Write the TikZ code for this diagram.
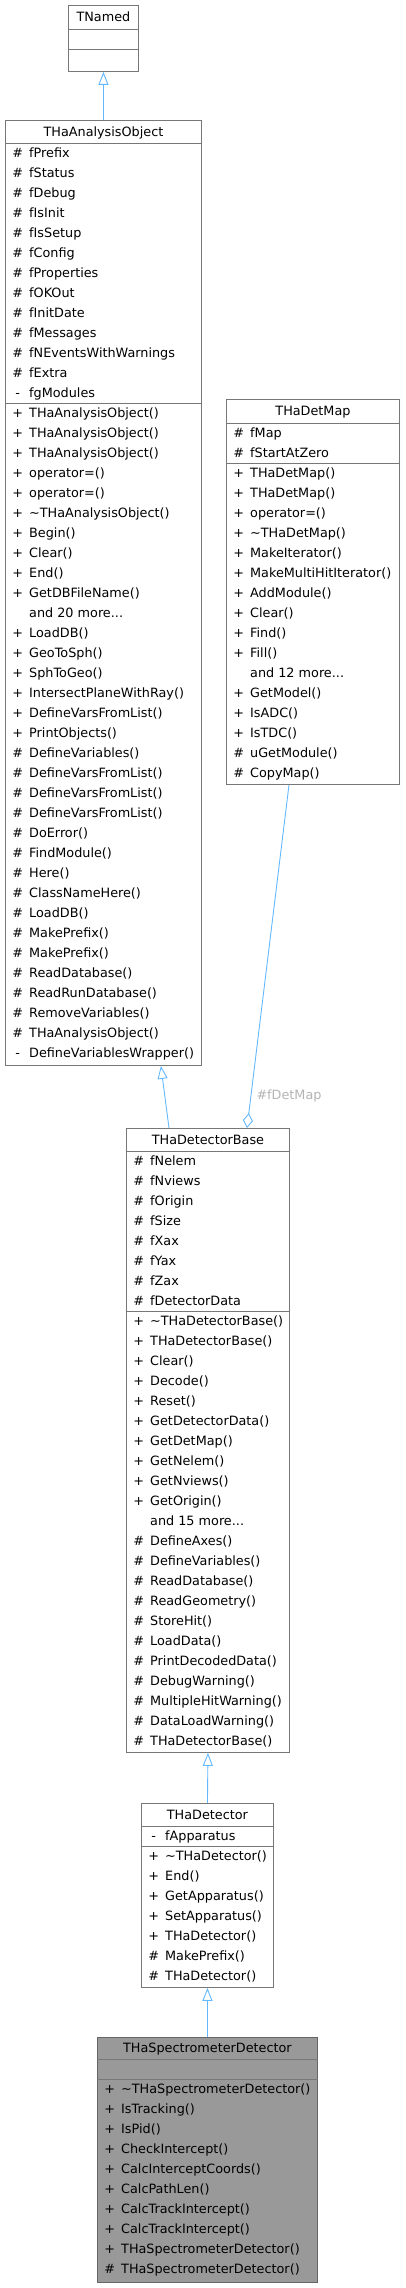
\documentclass[tikz,border=0pt]{standalone}
\usepackage{fontspec}
\setmainfont{DejaVu Sans}
\usetikzlibrary{arrows.meta}
\definecolor{edgeblue}{HTML}{63B8FF}
\definecolor{boxgray}{HTML}{777777}
\definecolor{lblgray}{HTML}{B4B4B4}
\definecolor{curfill}{HTML}{999999}

\begin{document}
\begin{tikzpicture}[x=1pt, y=-1pt, font=\fontsize{12.8}{15}\selectfont,
  umlbox/.style={draw=boxgray, line width=0.9pt, fill=white, inner sep=0pt, anchor=north west},
  divider/.style={draw=boxgray, line width=0.9pt},
  headtext/.style={inner sep=0pt, anchor=base},
  rowtext/.style={inner sep=0pt, anchor=base west},
  inherit/.style={draw=edgeblue, line width=0.9pt, -{Triangle[open, length=13pt, width=10pt, fill=white]}},
  member/.style={draw=edgeblue, line width=0.9pt, {Diamond[open, length=15pt, width=10pt, fill=white]}-},
  lbl/.style={text=lblgray, inner sep=0pt}]
  \useasboundingbox (0,0) rectangle (405,2288);

  % class boxes
  \node[umlbox, minimum width=70pt, minimum height=66pt] (named) at (68,5) {};
  \node[umlbox, minimum width=196pt, minimum height=945pt] (anaobj) at (5,120) {};
  \node[umlbox, minimum width=173pt, minimum height=385pt] (detmap) at (226,399) {};
  \node[umlbox, minimum width=163pt, minimum height=624pt] (detbase) at (126,1128) {};
  \node[umlbox, minimum width=132pt, minimum height=184pt] (det) at (141,1803) {};
  \node[umlbox, fill=curfill, draw=boxgray!85!black, minimum width=220pt, minimum height=245pt] (specdet) at (97,2037) {};

  % section lines
  \foreach \b/\ya/\yb in {named/29/49, anaobj/143/403, detmap/423/463, detbase/1151/1311, det/1826/1846, specdet/2059/2079} {
    \draw[divider] (\b.west |- 0,\ya) -- (\b.east |- 0,\ya);
    \draw[divider] (\b.west |- 0,\yb) -- (\b.east |- 0,\yb);
  }

  % headers
  \node[headtext] (named-h) at (named.north |- 0,21.6) {TNamed};
  \node[headtext] (anaobj-h) at (anaobj.north |- 0,136.1) {THaAnalysisObject};
  \node[headtext] (detmap-h) at (detmap.north |- 0,415.6) {THaDetMap};
  \node[headtext] (detbase-h) at (detbase.north |- 0,1144.1) {THaDetectorBase};
  \node[headtext] (det-h) at (det.north |- 0,1819.1) {THaDetector};
  \node[headtext] (specdet-h) at (specdet.north |- 0,2052.6) {THaSpectrometerDetector};

  % THaAnalysisObject
  \foreach \s/\t [count=\i] in {\#/fPrefix, \#/fStatus, \#/fDebug, \#/fIsInit, \#/fIsSetup, \#/fConfig,
      \#/fProperties, \#/fOKOut, \#/fInitDate, \#/fMessages, \#/fNEventsWithWarnings, \#/fExtra, -/fgModules}
    \node[rowtext] (anaobj-a\i) at (10, {143+20*\i-5.4}) {\makebox[15pt]{\s}\hspace{4pt}\t};
  \foreach \s/\t [count=\i] in {+/THaAnalysisObject(), +/THaAnalysisObject(), +/THaAnalysisObject(),
      +/operator=(), +/operator=(), +/\textasciitilde{}THaAnalysisObject(), +/Begin(), +/Clear(), +/End(),
      +/GetDBFileName(), {}/and 20 more{.}{.}{.}, +/LoadDB(), +/GeoToSph(), +/SphToGeo(),
      +/IntersectPlaneWithRay(), +/DefineVarsFromList(), +/PrintObjects(), \#/DefineVariables(),
      \#/DefineVarsFromList(), \#/DefineVarsFromList(), \#/DefineVarsFromList(), \#/DoError(),
      \#/FindModule(), \#/Here(), \#/ClassNameHere(), \#/LoadDB(), \#/MakePrefix(), \#/MakePrefix(),
      \#/ReadDatabase(), \#/ReadRunDatabase(), \#/RemoveVariables(), \#/THaAnalysisObject(),
      -/DefineVariablesWrapper()}
    \node[rowtext] (anaobj-m\i) at (10, {403+20*\i-5.4}) {\makebox[15pt]{\s}\hspace{4pt}\t};

  % THaDetMap
  \foreach \s/\t [count=\i] in {\#/fMap, \#/fStartAtZero}
    \node[rowtext] (detmap-a\i) at (231, {423+20*\i-5.4}) {\makebox[15pt]{\s}\hspace{4pt}\t};
  \foreach \s/\t [count=\i] in {+/THaDetMap(), +/THaDetMap(), +/operator=(), +/\textasciitilde{}THaDetMap(),
      +/MakeIterator(), +/MakeMultiHitIterator(), +/AddModule(), +/Clear(), +/Find(), +/Fill(),
      {}/and 12 more{.}{.}{.}, +/GetModel(), +/IsADC(), +/IsTDC(), \#/uGetModule(), \#/CopyMap()}
    \node[rowtext] (detmap-m\i) at (231, {463+20*\i-5.4}) {\makebox[15pt]{\s}\hspace{4pt}\t};

  % THaDetectorBase
  \foreach \s/\t [count=\i] in {\#/fNelem, \#/fNviews, \#/fOrigin, \#/fSize, \#/fXax, \#/fYax, \#/fZax,
      \#/fDetectorData}
    \node[rowtext] (detbase-a\i) at (131, {1151+20*\i-5.4}) {\makebox[15pt]{\s}\hspace{4pt}\t};
  \foreach \s/\t [count=\i] in {+/\textasciitilde{}THaDetectorBase(), +/THaDetectorBase(), +/Clear(),
      +/Decode(), +/Reset(), +/GetDetectorData(), +/GetDetMap(), +/GetNelem(), +/GetNviews(),
      +/GetOrigin(), {}/and 15 more{.}{.}{.}, \#/DefineAxes(), \#/DefineVariables(), \#/ReadDatabase(),
      \#/ReadGeometry(), \#/StoreHit(), \#/LoadData(), \#/PrintDecodedData(), \#/DebugWarning(),
      \#/MultipleHitWarning(), \#/DataLoadWarning(), \#/THaDetectorBase()}
    \node[rowtext] (detbase-m\i) at (131, {1311+20*\i-5.4}) {\makebox[15pt]{\s}\hspace{4pt}\t};

  % THaDetector
  \node[rowtext] (det-a1) at (146, {1826+20-5.4}) {\makebox[15pt]{-}\hspace{4pt}fApparatus};
  \foreach \s/\t [count=\i] in {+/\textasciitilde{}THaDetector(), +/End(), +/GetApparatus(),
      +/SetApparatus(), +/THaDetector(), \#/MakePrefix(), \#/THaDetector()}
    \node[rowtext] (det-m\i) at (146, {1846+20*\i-5.4}) {\makebox[15pt]{\s}\hspace{4pt}\t};

  % THaSpectrometerDetector
  \foreach \s/\t [count=\i] in {+/\textasciitilde{}THaSpectrometerDetector(), +/IsTracking(), +/IsPid(),
      +/CheckIntercept(), +/CalcInterceptCoords(), +/CalcPathLen(), +/CalcTrackIntercept(),
      +/CalcTrackIntercept(), +/THaSpectrometerDetector(), \#/THaSpectrometerDetector()}
    \node[rowtext] (specdet-m\i) at (102, {2079+20*\i-5.4}) {\makebox[15pt]{\s}\hspace{4pt}\t};

  % inheritance
  \draw[inherit] (anaobj.north) -- (named.south);
  \draw[inherit] ([xshift=43pt]detbase.north west) -- ([xshift=-41pt]anaobj.south east);
  \draw[inherit] (det.north) -- (detbase.south);
  \draw[inherit] (specdet.north) -- (det.south);

  % usage
  \draw[member] ([xshift=121pt]detbase.north west) -- ([xshift=63pt]detmap.south west);
  \node[lbl] (fdetmap-l) at (289,1096) {\#fDetMap};
\end{tikzpicture}
\end{document}
